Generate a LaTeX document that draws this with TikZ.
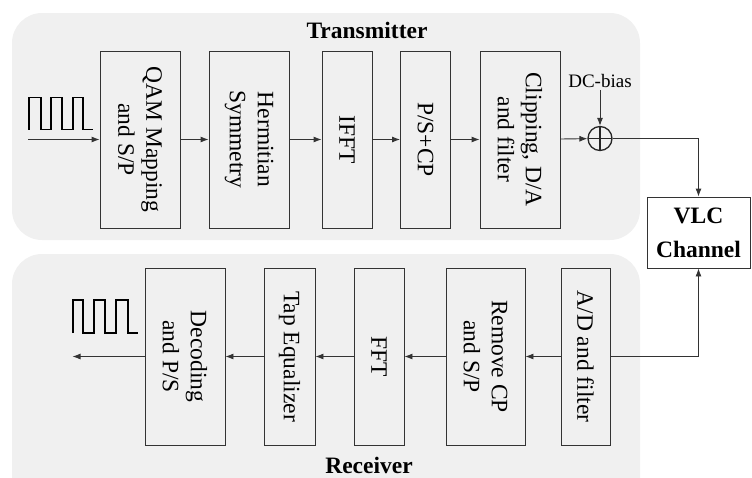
\documentclass[tikz,border=0pt]{standalone}
\usepackage{fontspec}
\setmainfont{Liberation Serif}
\usetikzlibrary{arrows.meta}

\tikzset{
  >={Latex[length=8pt,width=6pt]},
  panel/.style={fill=gray!12, rounded corners=30pt},
  blk/.style={draw=black!80, line width=0.9pt, rotate=-90, minimum width=177pt,
    minimum height=#1, inner sep=0pt, align=center,
    font=\fontsize{23.5}{28}\selectfont},
  title/.style={anchor=base, inner sep=1pt, font=\fontsize{23.5}{28}\selectfont\bfseries},
  wire/.style={draw=black!80, line width=0.9pt},
  sig/.style={line width=1.4pt, line join=miter}
}

\begin{document}
\begin{tikzpicture}[x=1pt, y=-1pt]
\useasboundingbox (0,0) rectangle (752,477);
\clip (0,0) rectangle (752,477);

% panels
\path [panel] (12,13) rectangle (640,240);
\path [panel] (12,254) rectangle (640,510);
\node [title] (txt) at (367,38) {Transmitter};
\node [title] (rxt) at (369,473) {Receiver};

% transmitter
\coordinate (in) at (28,139.5);
\node [blk=80] (qam) at (140,139.5) {QAM Mapping\\and S/P};
\node [blk=80] (herm) at (249,139.5) {Hermitian\\Symmetry};
\node [blk=50] (ifft) at (347,139.5) {IFFT};
\node [blk=50] (pscp) at (425.5,139.5) {P/S+CP};
\node [blk=80] (clip) at (520,139.5) {Clipping, D/A\\and filter};
\node [circle, draw=black!85, line width=1.3pt, minimum size=24pt, inner sep=0pt,
  path picture={\draw [line width=1.3pt] (path picture bounding box.north) -- (path picture bounding box.south)
    (path picture bounding box.west) -- (path picture bounding box.east);}] (add) at (600,138.5) {};
\node [font=\fontsize{19}{22}\selectfont, inner sep=2pt] (dc) at (600,81) {DC-bias};

% channel
\node [draw=black!80, line width=0.9pt, minimum width=103pt, minimum height=71pt, align=center,
  font=\fontsize{23.5}{34}\selectfont\bfseries] (vlc) at (698.5,232.5) {VLC\\Channel};

% receiver
\node [blk=49] (adf) at (585.5,356.5) {A/D and filter};
\node [blk=79] (rmcp) at (485.5,356.5) {Remove CP\\and S/P};
\node [blk=50] (fft) at (379,356.5) {FFT};
\node [blk=51] (tapeq) at (289.5,356.5) {Tap Equalizer};
\node [blk=80] (dec) at (185,356.5) {Decoding\\and P/S};
\coordinate (out) at (72.5,356.5);

% connectors
\draw [wire, ->] (in) -- (qam);
\draw [wire, ->] (qam) -- (herm);
\draw [wire, ->] (herm) -- (ifft);
\draw [wire, ->] (ifft) -- (pscp);
\draw [wire, ->] (pscp) -- (clip);
\draw [wire, ->] (clip) -- (add);
\draw [wire, ->] (dc) -- (add);
\draw [wire, ->] (add) -| (vlc);
\draw [wire, ->] (adf) -| (vlc);
\draw [wire, ->] (adf) -- (rmcp);
\draw [wire, ->] (rmcp) -- (fft);
\draw [wire, ->] (fft) -- (tapeq);
\draw [wire, ->] (tapeq) -- (dec);
\draw [wire, ->] (dec) -- (out);

% bit streams
\draw [sig] (29,129.5) |- (41,97.5) |- (51,129.5) |- (62,97.5) |- (73,129.5) |- (83,97.5) |- (93,129.5);
\draw [sig] (73,333) |- (83,300) |- (94,333) |- (105,300) |- (116,333) |- (128,300) |- (138,333);
\end{tikzpicture}
\end{document}
